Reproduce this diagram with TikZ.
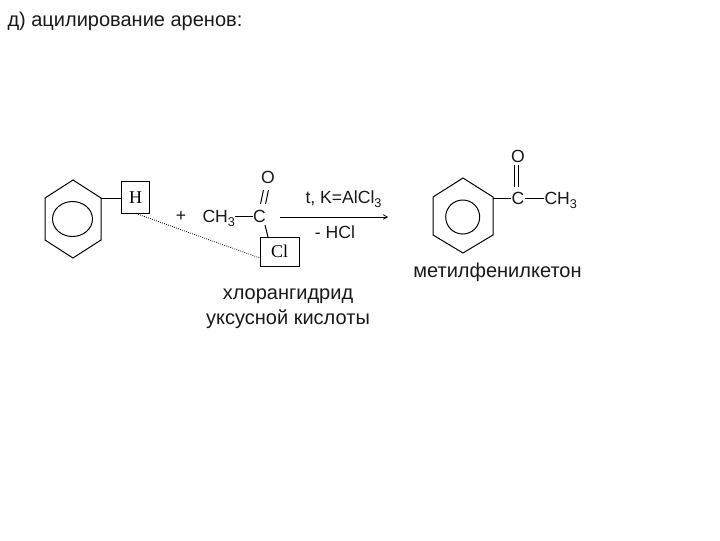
\documentclass[tikz,border=0pt]{standalone}
\usepackage{fontspec}
\usetikzlibrary{arrows.meta}
\setmainfont{Liberation Sans}
\newfontfamily\serifchem{Liberation Serif}
\newcommand{\lowthree}{\raisebox{-3.2pt}{\fontsize{9.5pt}{10pt}\selectfont 3}}
\begin{document}
\begin{tikzpicture}[x=0.75pt,y=-0.75pt,line width=0.75pt,
  lbl/.style={inner sep=0pt,font=\fontsize{13.2pt}{15pt}\selectfont,text=black!90},
  captext/.style={inner sep=0pt,font=\fontsize{15pt}{17pt}\selectfont,text=black!90},
  boxed/.style={draw,inner sep=0pt,font=\serifchem\fontsize{13.5pt}{15pt}\selectfont},
  bond/.style={draw,line width=0.75pt},
  hex/.style={draw,line width=0.75pt,line join=miter}]
\useasboundingbox[fill=white] (0,0) rectangle (720,540);
% title
\node[captext,anchor=west] (title) at (7,21) {д) ацилирование аренов:};
% left benzene
\draw[hex] (73,180) -- (101,198) -- (101,240) -- (73,258) -- (45,240) -- (45,198) -- cycle;
\draw[hex] (72.5,219) ellipse [x radius=20,y radius=17.5];
\coordinate (ringL) at (101,198);
\node[boxed,minimum width=20.6pt,minimum height=23.6pt] (hbox) at (135.5,197.5) {H};
\draw[bond] (ringL) -- (hbox.west |- ringL);
\coordinate (dotS) at (136,213.5);
\draw[line width=0.6pt,densely dotted] (dotS) -- (260,258);
% reagent
\node[lbl] (plus) at (181,216) {+};
\node[lbl,anchor=base west] (ch3a) at (202,222) {CH\lowthree};
\node[lbl] (ca) at (259.5,216) {C};
\node[lbl] (oa) at (268,177) {O};
\node[boxed,minimum width=29.25pt,minimum height=21.75pt] (clbox) at (279.5,251.5) {Cl};
\coordinate (clTop) at (268,237);
\coordinate (caLow) at (265,225);
\draw[bond] (235,216) -- (ca.west);
\draw[bond] (caLow) -- (clTop);
\draw[bond] (260.5,204) -- (263.5,190);
\draw[bond] (265.5,204) -- (268.5,190);
% arrow
\coordinate (arrS) at (280,217);
\coordinate (arrE) at (388,217);
\draw[line width=0.6pt,-{Straight Barb[length=3pt,width=3.5pt]}] (arrS) -- (arrE);
\node[lbl,anchor=base west] (cond) at (305,203) {t, K=AlCl\lowthree};
\node[lbl] (hcl) at (335,232.5) {- HCl};
% right benzene
\draw[hex] (463,178) -- (493,197) -- (493,235) -- (463,253) -- (433,235) -- (433,197) -- cycle;
\draw[hex] (462.7,217) circle [radius=17];
\coordinate (ringR) at (493,198);
\node[lbl] (cb) at (518,198) {C};
\node[lbl] (ob) at (518,156) {O};
\node[lbl,anchor=base west] (ch3b) at (544,204) {CH\lowthree};
\draw[bond] (ringR) -- (cb.west);
\draw[bond] (cb.east) -- (544,198);
\draw[line width=0.9pt] (514.5,165) -- (514.5,187);
\draw[line width=0.9pt] (518.5,165) -- (518.5,187);
% captions
\node[captext,anchor=base] (prod) at (497.5,277) {метилфенилкетон};
\node[captext,anchor=base] (cap1) at (288,299) {хлорангидрид};
\node[captext,anchor=base] (cap2) at (288,324) {уксусной кислоты};
\end{tikzpicture}
\end{document}
